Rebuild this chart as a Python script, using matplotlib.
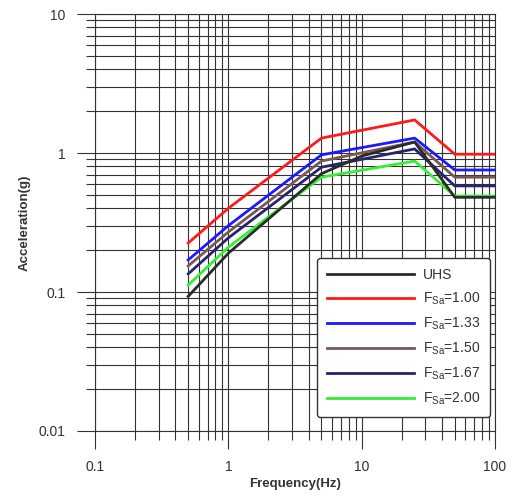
import numpy as np
import matplotlib
matplotlib.use('Agg')
import matplotlib.pyplot as plt
from matplotlib.ticker import LogLocator, FixedLocator, FixedFormatter, NullFormatter

plt.rcParams['font.family'] = ['Liberation Sans', 'DejaVu Sans']
plt.rcParams['mathtext.fontset'] = 'custom'
plt.rcParams['mathtext.rm'] = 'Liberation Sans'

# espectros de diseño (g) vs frecuencia (Hz)
freq = [0.5, 1, 5, 25, 50, 100]
fsa_100 = [0.225, 0.40, 1.28, 1.73, 0.98, 0.98]
fsa_133 = [0.17, 0.30, 0.97, 1.28, 0.755, 0.755]
fsa_150 = [0.154, 0.27, 0.875, 1.20, 0.67, 0.67]
fsa_167 = [0.135, 0.245, 0.79, 1.07, 0.58, 0.58]
fsa_200 = [0.112, 0.21, 0.67, 0.875, 0.49, 0.49]

uhs_freq = [0.5, 1, 5, 10, 25, 50, 100]
uhs = [0.093, 0.19, 0.71, 0.95, 1.2, 0.48, 0.48]

xticks = [0.1, 1, 10, 100]
xlabels = ['0.1', '1', '10', '100']
yticks = [0.01, 0.1, 1, 10]
ylabels = ['0.01', '0.1', '1', '10']

fig = plt.figure(figsize=(5.15, 4.97), dpi=100)
ax = fig.add_axes([0.1845, 0.1328, 0.7765, 0.839])

gris = '#333333'
lw = 2.0
ax.plot(uhs_freq, uhs, color='#2b2b2b', lw=lw, label='UHS', zorder=6)
ax.plot(freq, fsa_100, color='#ff1a1a', lw=lw, label=r'$\mathregular{F_{Sa}}$=1.00', zorder=3)
ax.plot(freq, fsa_133, color='#1a1aff', lw=lw, label=r'$\mathregular{F_{Sa}}$=1.33', zorder=3)
ax.plot(freq, fsa_150, color='#7a5858', lw=lw, label=r'$\mathregular{F_{Sa}}$=1.50', zorder=3)
ax.plot(freq, fsa_167, color='#25256e', lw=lw, label=r'$\mathregular{F_{Sa}}$=1.67', zorder=3)
ax.plot(freq, fsa_200, color='#33ee33', lw=lw, label=r'$\mathregular{F_{Sa}}$=2.00', zorder=3)

ax.set_xscale('log')
ax.set_yscale('log')
ax.set_xlim(0.1, 100)
ax.set_ylim(0.01, 10)

ax.xaxis.set_major_locator(FixedLocator(xticks))
ax.xaxis.set_major_formatter(FixedFormatter(xlabels))
ax.yaxis.set_major_locator(FixedLocator(yticks))
ax.yaxis.set_major_formatter(FixedFormatter(ylabels))
ax.xaxis.set_minor_locator(LogLocator(base=10, subs=np.arange(2, 10), numticks=20))
ax.yaxis.set_minor_locator(LogLocator(base=10, subs=np.arange(2, 10), numticks=20))
ax.xaxis.set_minor_formatter(NullFormatter())
ax.yaxis.set_minor_formatter(NullFormatter())

ax.grid(True, which='both', color=gris, lw=0.8)
ax.set_axisbelow(True)
# el marco hace de rejilla en los limites
for s in ax.spines.values():
    s.set_color(gris)
    s.set_linewidth(0.8)

ax.tick_params(which='major', direction='out', length=13, width=0.8, color=gris,
               labelsize=10, labelcolor=gris, pad=8)
ax.tick_params(which='minor', direction='out', length=6.5, width=0.8, color=gris)

ax.set_xlabel('Frequency(Hz)', fontsize=9.5, fontweight='bold', color=gris, labelpad=3)
ax.set_ylabel('Acceleration(g)', fontsize=9.5, fontweight='bold', color=gris, labelpad=6)

leg = ax.legend(loc='lower right', bbox_to_anchor=(0.9875, 0.034), borderaxespad=0,
                fontsize=10, handlelength=6.3, handletextpad=0.6, labelspacing=0.62,
                borderpad=0.7, fancybox=True, framealpha=1, edgecolor=gris)
for t in leg.get_texts():
    t.set_color(gris)
leg.set_zorder(10)

plt.savefig('out.png', dpi=100)
